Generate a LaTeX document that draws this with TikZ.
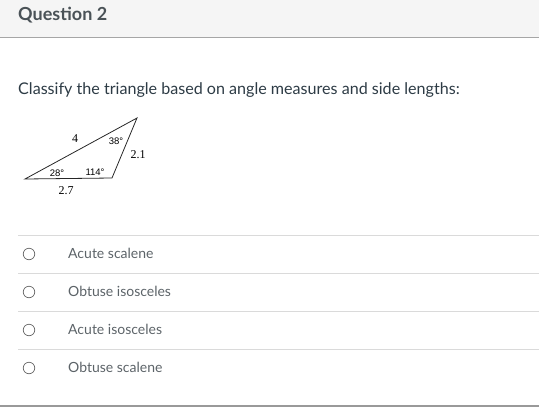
\documentclass[tikz,border=0pt]{standalone}
\usepackage{fontspec}
\setmainfont{Lato}
\newfontfamily\sidefont{Liberation Serif}
\newfontfamily\anglefont{Liberation Sans}
\usepackage{tikz}

\definecolor{headbg}{HTML}{F5F5F5}
\definecolor{headtext}{HTML}{4A5257}
\definecolor{bodytext}{HTML}{2D3B45}
\definecolor{optline}{HTML}{DADADA}

\tikzset{
	answer/.style={anchor=west, text=headtext!90, font=\fontsize{14}{16}\selectfont, inner sep=0pt},
	radio/.style={circle, draw=black!60, line width=0.7pt, minimum size=11.5pt, inner sep=0pt},
	sidelabel/.style={font=\sidefont\fontsize{12}{13}\selectfont, inner sep=0pt},
	anglelabel/.style={font=\anglefont\fontsize{9.5}{10}\selectfont, inner sep=0pt}
}

\begin{document}
\begin{tikzpicture}[x=1pt, y=-1pt]
				\useasboundingbox (0,0) rectangle (539,413);
				\fill[headbg] (0,0) rectangle (539,37);
				\draw[color=gray!70, thick] (0,37) -- (539,37);
				\node[anchor=west, text=headtext, font=\bfseries\fontsize{18}{21}\selectfont, inner sep=0pt] (title) at (18,15) {Question 2};
				\node[anchor=west, text=bodytext, font=\fontsize{16.1}{19}\selectfont, inner sep=0pt] (prompt) at (18,90) {Classify the triangle based on angle measures and side lengths:};
				% triangle
				\coordinate (A) at (25,179);
				\coordinate (B) at (112,178);
				\coordinate (C) at (137,118);
				\draw[black!85, line width=0.8pt, line join=miter] (A) -- (B) -- (C) -- cycle;
				\node[sidelabel] (side4) at (75,139) {4};
				\node[sidelabel] (side21) at (138,155) {2.1};
				\node[sidelabel] (side27) at (66,191) {2.7};
				\node[anglelabel] (ang38) at (116,141) {38°};
				\node[anglelabel] (ang28) at (57,173) {28°};
				\node[anglelabel] (ang114) at (95,172) {114°};
				% answers
				\draw[optline] (18,235) -- (539,235);
				\draw[optline] (18,273) -- (539,273);
				\draw[optline] (18,311) -- (539,311);
				\draw[optline] (18,349) -- (539,349);
				\draw[color=gray!80, line width=1.2pt] (0,406) -- (539,406);
				\node[radio] (r1) at (29,254) {};
				\node[radio] (r2) at (29,292) {};
				\node[radio] (r3) at (29,330) {};
				\node[radio] (r4) at (29,368) {};
				\node[answer] (a1) at (68,253) {Acute scalene};
				\node[answer] (a2) at (68,291) {Obtuse isosceles};
				\node[answer] (a3) at (68,329) {Acute isosceles};
				\node[answer] (a4) at (68,367) {Obtuse scalene};
			\end{tikzpicture}
\end{document}
